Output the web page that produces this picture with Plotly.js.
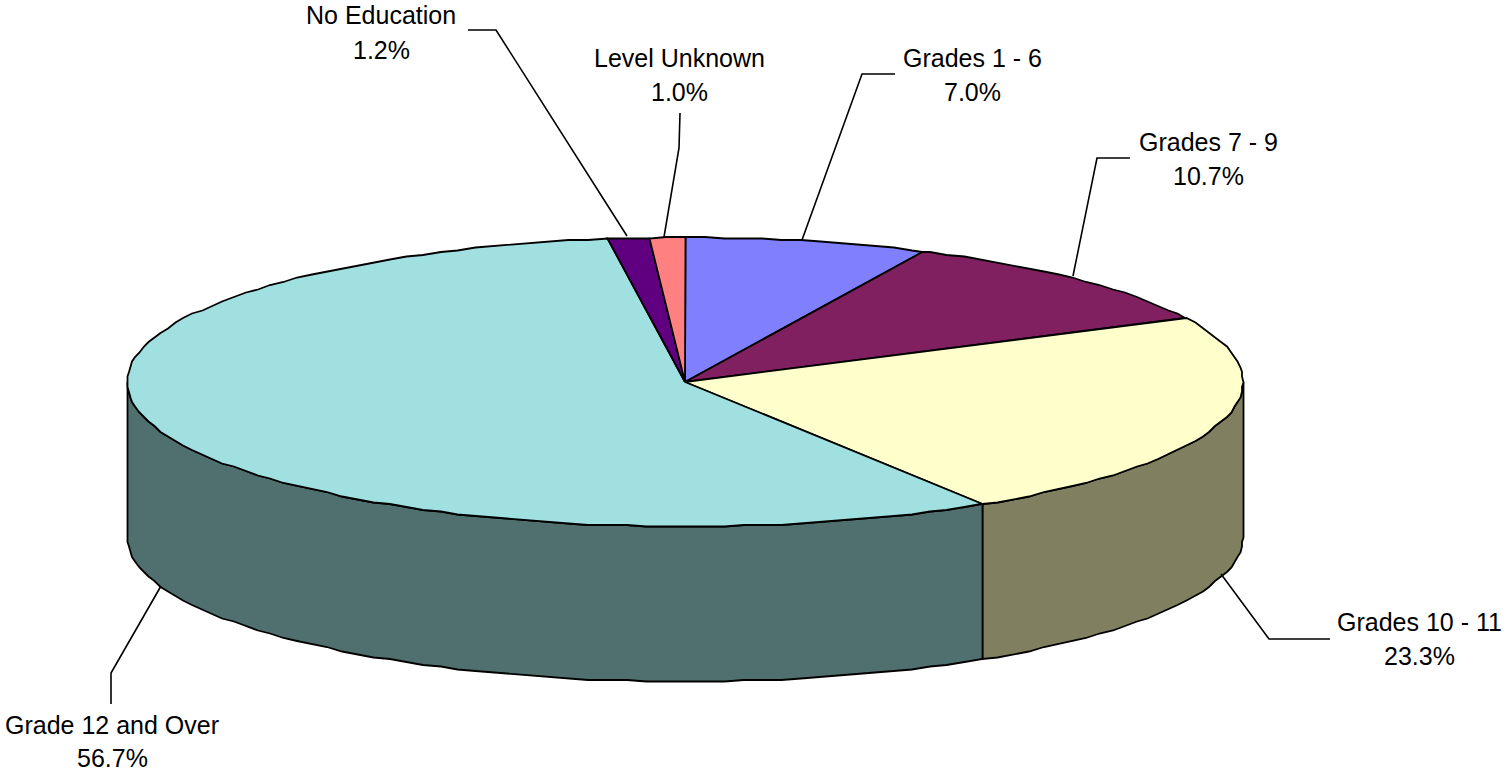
<!DOCTYPE html>
<html>
<head>
<meta charset="utf-8">
<script src="https://cdn.plot.ly/plotly-3.0.1.min.js"></script>
<style>html,body{margin:0;padding:0;background:#fff;overflow:hidden}#chart{width:1506px;height:772px}</style>
</head>
<body>
<div id="chart"></div>
<script>
// Data, clockwise from 12 o'clock
const categories = ["Grades 1 - 6", "Grades 7 - 9", "Grades 10 - 11", "Grade 12 and Over", "No Education", "Level Unknown"];
const shares = [7.0, 10.7, 23.3, 56.7, 1.2, 1.0];
const topColors = ["#8080FF", "#802060", "#FFFFCC", "#A0E0E0", "#600080", "#FF8080"];
const wallColors = ["#404080", "#401030", "#808060", "#507070", "#300040", "#804040"];

// Label layout
const labelX = [972, 1208, 1419, 112, 381, 679];
const labelY1 = [58, 142, 622, 725, 15, 58];
const labelY2 = [92, 176, 656, 757.5, 50, 92];
const anchorX = [802, 1073, 1221, 161, 627, 664];
const anchorY = [240, 276, 574, 586, 236, 237];
const elbowX = [862, 1097, 1269, 111, 496, 679];
const elbowY = [74, 158, 639, 673, 30, 148];
const leaderEndX = [895, 1130, 1330, 111, 468, 680];
const leaderEndY = [74, 158, 639, 704, 30, 113];

// Pie projection
const cx = 685, cy = 382, rx = 558, ry = 144.5, depth = 155, grid = 1.5, stepDeg = 2;
const total = shares.reduce((a, b) => a + b, 0);
const snap = v => Math.round(v / grid) * grid;
const px = d => snap(cx + rx * Math.sin(d * Math.PI / 180));
const py = (d, dz) => snap(cy - ry * Math.cos(d * Math.PI / 180)) + (dz || 0);
// Angles fall on one shared grid, so that a slice and its wall trace the same outline
const arc = (a, b) => {
  const r = [a];
  for (let k = Math.floor(a / stepDeg) + 1; k * stepDeg < b; k++) {
    if (k * stepDeg > a) r.push(k * stepDeg);
  }
  r.push(b);
  return r;
};
const line = {color: "#000", width: 1.8};
const traces = [];
const bounds = [];
let cum = 0;
shares.forEach(v => { bounds.push([cum, cum + v / total * 360]); cum += v / total * 360; });

// Walls (only the front half of the cylinder is visible)
bounds.forEach(([a, b], i) => {
  const s = Math.max(a, 90), e = Math.min(b, 270);
  if (e <= s) return;
  const t = arc(s, e), rev = t.slice().reverse();
  traces.push({
    type: "scatter", mode: "lines", fill: "toself", fillcolor: wallColors[i], line, hoverinfo: "skip",
    x: t.map(d => px(d)).concat(rev.map(d => px(d)), [px(s)]),
    y: t.map(d => py(d)).concat(rev.map(d => py(d, depth)), [py(s)])
  });
});

// Top face
bounds.forEach(([a, b], i) => {
  const t = arc(a, b);
  traces.push({
    type: "scatter", mode: "lines", fill: "toself", fillcolor: topColors[i], line, hoverinfo: "skip",
    x: [cx].concat(t.map(d => px(d)), [cx]),
    y: [cy].concat(t.map(d => py(d)), [cy])
  });
});

// Leader lines
categories.forEach((c, i) => {
  traces.push({
    type: "scatter", mode: "lines", line: {color: "#000", width: 1.6}, hoverinfo: "skip",
    x: [anchorX[i], elbowX[i], leaderEndX[i]],
    y: [anchorY[i], elbowY[i], leaderEndY[i]]
  });
});

const font = {family: "Liberation Sans, Arial, sans-serif", size: 25, color: "#000"};
const annotations = [];
categories.forEach((c, i) => {
  annotations.push({x: labelX[i], y: labelY1[i], text: c, showarrow: false, xanchor: "center", yanchor: "middle", font});
  annotations.push({x: labelX[i], y: labelY2[i], text: shares[i].toFixed(1) + "%", showarrow: false, xanchor: "center", yanchor: "middle", font});
});

Plotly.newPlot("chart", traces, {
  width: 1506, height: 772,
  margin: {l: 0, r: 0, t: 0, b: 0},
  paper_bgcolor: "#fff", plot_bgcolor: "#fff",
  showlegend: false,
  xaxis: {range: [0, 1506], visible: false, fixedrange: true},
  yaxis: {range: [772, 0], visible: false, fixedrange: true},
  annotations
}, {displayModeBar: false, staticPlot: true});
</script>
</body>
</html>
